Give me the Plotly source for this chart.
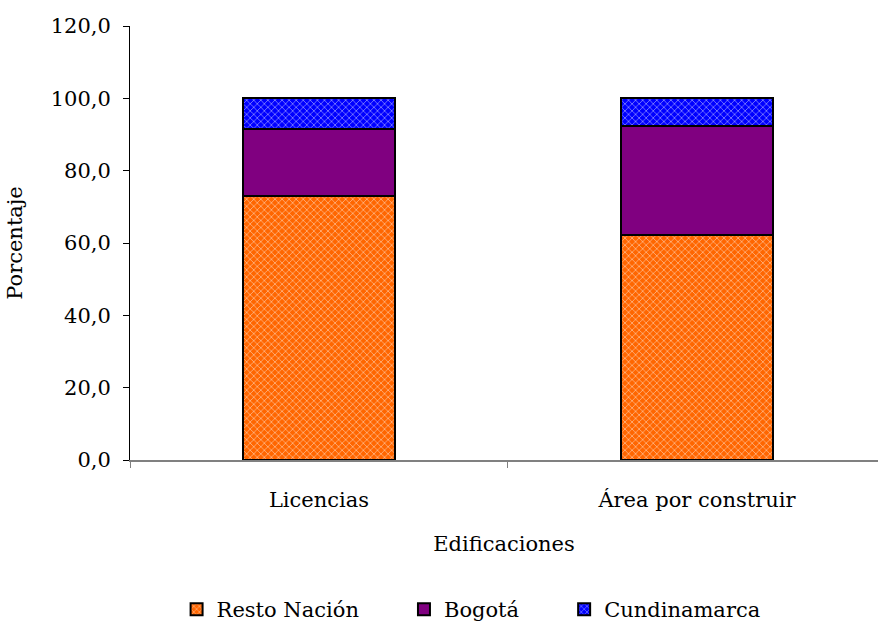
import plotly.graph_objects as go

categorias = ["Licencias", "Área por construir"]
resto_nacion = [73.0, 62.2]
bogota = [18.5, 30.1]
cundinamarca = [8.5, 7.7]

fuente = "DejaVu Serif"
texto = dict(family=fuente, size=21, color="black")
relleno = "\u00a0" * 6  # extra room between legend entries

fig = go.Figure()

# Resto Nación - naranja con trama
fig.add_trace(go.Bar(
    x=categorias, y=resto_nacion, name="Resto Nación" + relleno,
    marker=dict(color="#FF6600", line=dict(color="black", width=2),
                pattern=dict(shape="x", fgcolor="white", bgcolor="#FF6600",
                             size=5, solidity=0.3, fillmode="overlay")),
    width=0.4,
))

# Bogotá - morado sólido
fig.add_trace(go.Bar(
    x=categorias, y=bogota, name="Bogotá" + relleno,
    marker=dict(color="#800080", line=dict(color="black", width=2)),
    width=0.4,
))

# Cundinamarca - azul con trama
fig.add_trace(go.Bar(
    x=categorias, y=cundinamarca, name="Cundinamarca",
    marker=dict(color="#0000FF", line=dict(color="black", width=2),
                pattern=dict(shape="x", fgcolor="white", bgcolor="#0000FF",
                             size=5, solidity=0.3, fillmode="overlay")),
    width=0.4,
))

fig.update_layout(
    barmode="stack",
    width=878, height=630,
    margin=dict(l=130, r=0, t=26, b=162),
    paper_bgcolor="white", plot_bgcolor="white",
    font=texto,
    separators=",.",
    showlegend=True,
    legend=dict(orientation="h", x=0.456, xanchor="center", y=-0.345, yanchor="middle",
                font=texto, itemwidth=30, traceorder="normal"),
)

fig.update_xaxes(
    range=[-0.5, 1.479], automargin=False,
    showline=True, linecolor="#808080", linewidth=1.5,
    ticks="outside", tickson="boundaries", ticklen=6, tickcolor="#808080",
    tickfont=texto, ticklabelstandoff=20,
    title=dict(text="Edificaciones", standoff=25, font=texto),
    showgrid=False, zeroline=False,
)

fig.update_yaxes(
    range=[0, 120], dtick=20, tickformat=".1f", automargin=False,
    showline=True, linecolor="black", linewidth=1,
    ticks="outside", ticklen=6, tickcolor="black",
    tickfont=texto, ticklabelstandoff=8,
    title=dict(text="Porcentaje", standoff=22, font=texto),
    showgrid=False, zeroline=False,
)

# drop the default body margin so the figure sits at the page origin
fig.write_html("out.html", config={"displayModeBar": False},
               post_script="document.body.style.margin='0';"
                           "document.documentElement.style.overflow='hidden';")
